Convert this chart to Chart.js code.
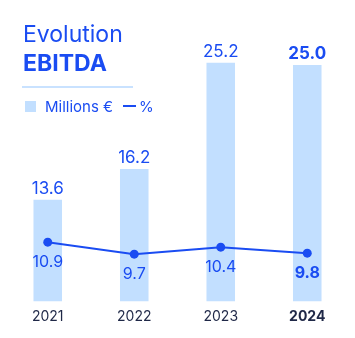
<!DOCTYPE html>
<html>
<head>
<meta charset="utf-8">
<script src="https://cdn.jsdelivr.net/npm/chart.js@4"></script>
<style>
  html, body { margin: 0; padding: 0; background: #fff; }
  #wrap { position: relative; width: 355px; height: 338px; font-family: Inter, "Noto Sans", sans-serif; }
  #wrap canvas { position: absolute; left: 0; top: 0; }
  .title { position: absolute; left: 23px; color: #1a4cf2; font-size: 23px; line-height: 23px; white-space: nowrap; }
  #t1 { top: 23px; font-weight: 400; }
  #t2 { top: 52px; font-weight: 700; }
  #rule { position: absolute; left: 22px; top: 86px; width: 111px; height: 2px; background: #c9e2ff; }
  .legend { position: absolute; top: 99px; color: #1a4cf2; font-size: 15px; line-height: 15px; white-space: nowrap; }
  #sq { position: absolute; left: 25px; top: 101px; width: 11px; height: 11px; background: #c2dfff; }
  #ln { position: absolute; left: 123px; top: 105px; width: 13px; height: 2px; background: #1a4cf2; }
</style>
</head>
<body>
<div id="wrap">
  <canvas id="grafico" width="355" height="338"></canvas>
  <div class="title" id="t1">Evolution</div>
  <div class="title" id="t2">EBITDA</div>
  <div id="rule"></div>
  <div id="sq"></div>
  <div class="legend" style="left:45px">Millions €</div>
  <div id="ln"></div>
  <div class="legend" style="left:139px">%</div>
</div>
<script>
const anos = ['2021', '2022', '2023', '2024'];
const ebitda = [13.6, 16.2, 25.2, 25.0];   // millions €
const margem = [10.9, 9.7, 10.4, 9.8];     // %

const AZUL = '#1a4cf2';
const AZUL_CLARO = '#c2dfff';
const ultimo = anos.length - 1;

// labels above the bars and below the points
const rotulos = {
  id: 'rotulos',
  afterDatasetsDraw(chart) {
    const ctx = chart.ctx;
    ctx.save();
    ctx.textAlign = 'center';
    ctx.textBaseline = 'alphabetic';
    ctx.fillStyle = AZUL;

    chart.getDatasetMeta(0).data.forEach((bar, i) => {
      ctx.font = (i === ultimo ? '700 ' : '400 ') + '17px Inter, sans-serif';
      ctx.fillText(ebitda[i].toFixed(1), bar.x, bar.y - 6);
    });

    chart.getDatasetMeta(1).data.forEach((pt, i) => {
      ctx.font = (i === ultimo ? '700 ' : '400 ') + '16px Inter, sans-serif';
      ctx.fillText(margem[i].toFixed(1), pt.x, pt.y + 25);
    });
    ctx.restore();
  }
};

new Chart(document.getElementById('grafico').getContext('2d'), {
  type: 'bar',
  data: {
    labels: anos,
    datasets: [{
      label: 'Millions €',
      data: ebitda,
      backgroundColor: AZUL_CLARO,
      borderWidth: 0,
      barPercentage: 0.33,
      categoryPercentage: 1,
      yAxisID: 'y',
      order: 2
    }, {
      type: 'line',
      label: '%',
      data: margem,
      borderColor: AZUL,
      backgroundColor: AZUL,
      borderWidth: 2,
      pointRadius: 4.5,
      pointBackgroundColor: AZUL,
      pointBorderWidth: 0,
      tension: 0,
      yAxisID: 'y1',
      order: 1
    }]
  },
  options: {
    responsive: false,
    animation: false,
    layout: { padding: { top: 6, left: 0, right: 1, bottom: 6 } },
    plugins: {
      legend: { display: false },
      tooltip: { enabled: false }
    },
    scales: {
      x: {
        grid: { display: false, drawTicks: false },
        border: { display: false },
        ticks: {
          padding: 7,
          color: '#1f2847',
          font: c => ({ family: 'Inter, sans-serif', size: 14, weight: c.index === ultimo ? 'bold' : 'normal' })
        }
      },
      y: { display: false, min: 5, max: 30 },
      y1: { display: false, min: 5, max: 34.5 }
    }
  },
  plugins: [rotulos]
});
</script>
</body>
</html>
